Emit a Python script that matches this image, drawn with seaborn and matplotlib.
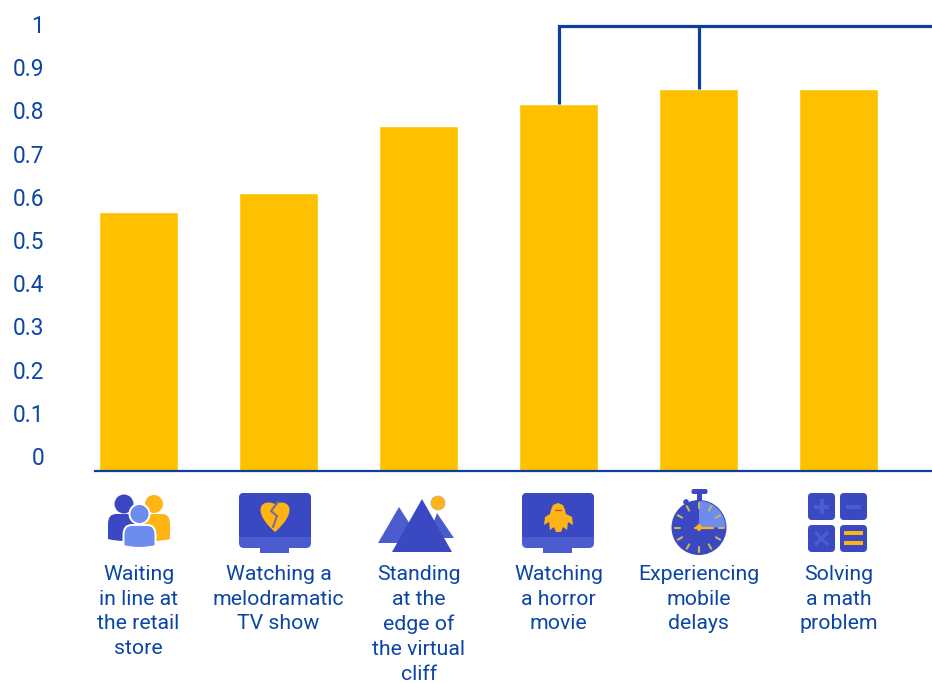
import numpy as np
import pandas as pd
import matplotlib
matplotlib.use("Agg")
import matplotlib.pyplot as plt
import seaborn as sns
from matplotlib.patches import Circle, FancyBboxPatch, Polygon, Rectangle, Wedge, PathPatch
from matplotlib.path import Path

categories = [
    "Waiting\nin line at\nthe retail\nstore",
    "Watching a\nmelodramatic\nTV show",
    "Standing\nat the\nedge of\nthe virtual\ncliff",
    "Watching\na horror\nmovie",
    "Experiencing\nmobile\ndelays",
    "Solving\na math\nproblem",
]
values = [0.582, 0.624, 0.775, 0.824, 0.858, 0.858]
scale_labels = ["0", "0.1", "0.2", "0.3", "0.4", "0.5", "0.6", "0.7", "0.8", "0.9", "1"]
scale_values = [i / 10 for i in range(11)]
bracket_level = 1.0
bracket_bars = [3, 4]

BAR = "#FFC000"
INK = "#0B45A6"
NAVY = "#0A3FA0"
BLUE = "#3A48C2"
MID = "#4B5CCF"
LIGHT = "#6E8CEE"
ORANGE = "#FDB414"

sns.set_theme(style="white")
plt.rcParams["font.family"] = ["Roboto", "DejaVu Sans"]

W, H = 932, 683
fig = plt.figure(figsize=(W / 100, H / 100), dpi=100, facecolor="white")

# Plot frame: zero baseline at y=471 px, full scale at y=26 px
x0, base_y = 95, 471
ax = fig.add_axes([x0 / W, 1 - base_y / H, (W - x0) / W, base_y / H])
data = pd.DataFrame({"scenario": categories, "share": values})
sns.barplot(data=data, x="scenario", y="share", color=BAR, saturation=1,
            width=79 / 140, ax=ax, order=categories)
ax.set_xlim((x0 - 138.6) / 140, (W - 138.6) / 140)
ax.set_ylim(0, base_y / 445)
ax.set_xlabel("")
ax.set_ylabel("")
ax.set_yticks([])
for side in ["top", "right", "left"]:
    ax.spines[side].set_visible(False)
ax.spines["bottom"].set_color(NAVY)
ax.spines["bottom"].set_linewidth(1.6)
ax.tick_params(axis="x", length=0, pad=67.5)
ax.set_xticks(range(len(categories)))
ax.set_xticklabels(categories, fontsize=15.3, color=INK, linespacing=1.39, va="top")

# Bracket joining the last two annotated bars
lw = 2.3
right_edge = ax.get_xlim()[1]
ax.plot([bracket_bars[0], bracket_bars[0], right_edge],
        [values[bracket_bars[0]], bracket_level, bracket_level],
        color=NAVY, lw=lw, solid_joinstyle="miter", solid_capstyle="butt", clip_on=False)
ax.plot([bracket_bars[1], bracket_bars[1]],
        [values[bracket_bars[1]], bracket_level],
        color=NAVY, lw=lw, solid_capstyle="butt")

# Scale labels sit on their own axis, slightly offset from the bars
scale_ax = ax.twinx()
unit = 432
scale_ax.set_ylim(-15 / unit, 456 / unit)
scale_ax.set_yticks(scale_values)
scale_ax.set_yticklabels(scale_labels, fontsize=16.3, color=INK, ha="right")
scale_ax.yaxis.tick_left()
scale_ax.tick_params(axis="y", length=0, pad=36.7)
for s in scale_ax.spines.values():
    s.set_visible(False)
scale_ax.patch.set_alpha(0)

# Overlay in pixel coordinates for the pictograms
ov = fig.add_axes([0, 0, 1, 1])
ov.set_xlim(0, W)
ov.set_ylim(H, 0)
ov.axis("off")
ov.patch.set_alpha(0)


def rounded(x, y, w, h, r, color, **kw):
    ov.add_patch(FancyBboxPatch((x + r, y + r), w - 2 * r, h - 2 * r,
                                boxstyle=f"round,pad={r},rounding_size={r}",
                                fc=color, ec="none", **kw))


def person(cx, head_y, head_r, half_w, top, bottom, color, outline=False):
    verts = [(cx - half_w, bottom), (cx - half_w, top + 10),
             (cx - half_w, top), (cx - half_w + 8, top), (cx + half_w - 8, top),
             (cx + half_w, top), (cx + half_w, top + 10), (cx + half_w, bottom),
             (cx, bottom + 4), (cx - half_w, bottom)]
    codes = [Path.MOVETO, Path.LINETO, Path.CURVE3, Path.CURVE3, Path.LINETO,
             Path.CURVE3, Path.CURVE3, Path.LINETO, Path.CURVE3, Path.CURVE3]
    ec, elw = ("white", 1.4) if outline else ("none", 0)
    ov.add_patch(PathPatch(Path(verts, codes), fc=color, ec=ec, lw=elw))
    ov.add_patch(Circle((cx, head_y), head_r, fc=color, ec=ec, lw=elw))


def monitor(x):
    ov.add_patch(Rectangle((x + 21, 546), 29, 7, fc=MID, ec="none"))
    rounded(x, 493, 72, 55, 5, MID)
    rounded(x, 493, 72, 30, 5, BLUE)
    ov.add_patch(Rectangle((x, 505), 72, 32, fc=BLUE, ec="none"))


def heart(cx, cy):
    verts = [(cx, cy + 17), (cx - 24, cy - 4), (cx - 14, cy - 17), (cx, cy - 11),
             (cx, cy - 11), (cx + 14, cy - 17), (cx + 24, cy - 4), (cx, cy + 17)]
    codes = [Path.MOVETO, Path.CURVE4, Path.CURVE4, Path.CURVE4,
             Path.LINETO, Path.CURVE4, Path.CURVE4, Path.CURVE4]
    ov.add_patch(PathPatch(Path(verts, codes), fc=ORANGE, ec="none"))
    ov.plot([cx + 3, cx - 4, cx + 2, cx - 2], [cy - 13, cy - 4, cy + 1, cy + 12],
            color="#7A6A8C", lw=1.5)


# Waiting in line
person(124, 504, 9.5, 16, 514, 539, BLUE)
person(154, 504, 9, 16, 514, 539, ORANGE)
person(139.5, 514, 10, 16, 525, 546, LIGHT, outline=True)

# Melodramatic TV show
monitor(239)
heart(275, 515)

# Virtual cliff
ov.add_patch(Polygon([(378, 543), (399, 507), (422, 543)], fc=MID, ec="none"))
ov.add_patch(Polygon([(428, 538), (437, 513), (454, 538)], fc=MID, ec="none"))
ov.add_patch(Polygon([(392, 552), (422, 499), (452, 552)], fc=BLUE, ec="none"))
ov.add_patch(Circle((438, 503), 7, fc=ORANGE, ec="#C9B58A", lw=0.6))

# Horror movie
monitor(522)
ghost = [(551, 510), (553, 505), (558, 503), (563, 505), (565, 510), (566, 514), (572, 517),
         (573, 525), (568, 522), (567, 530), (563, 527), (561, 532),
         (556, 532), (554, 527), (550, 530), (549, 522), (544, 525), (545, 517), (550, 514)]
ov.add_patch(Polygon(ghost, fc=ORANGE, ec="none"))
ov.plot([555, 561], [510, 510], color="#C04A30", lw=0.9)

# Mobile delays: a stopwatch
cx, cy, r = 699, 527.5, 27.5
ov.add_patch(Rectangle((697, 492), 5, 12, fc=BLUE, ec="none"))
rounded(691.5, 489, 16, 5, 2, BLUE)
ov.add_patch(Circle((686, 502), 2.8, fc=BLUE, ec="none"))
ov.add_patch(Circle((cx, cy), r, fc=BLUE, ec="none"))
# y runs downward in this overlay, so angles go clockwise on screen
ov.add_patch(Wedge((cx, cy), r - 1, -90, 0, fc=LIGHT, ec="none"))
angles = np.deg2rad(np.arange(0, 360, 30))
for a in angles:
    ov.plot([cx + (r - 8) * np.cos(a), cx + (r - 3) * np.cos(a)],
            [cy + (r - 8) * np.sin(a), cy + (r - 3) * np.sin(a)],
            color="#C9B84E", lw=1.5, solid_capstyle="round")
ov.plot([cx - 4, cx + 14], [cy, cy], color=ORANGE, lw=1.6)
ov.add_patch(Polygon([(cx - 4, cy), (cx, cy - 4), (cx + 4, cy), (cx, cy + 4)], fc=ORANGE, ec="none"))

# Math problem
for bx, by in [(808, 493), (840, 493), (808, 525), (840, 525)]:
    rounded(bx, by, 27, 27, 4, BLUE)
ov.add_patch(Rectangle((814, 505), 15, 3.5, fc=MID, ec="none"))
ov.add_patch(Rectangle((820, 499), 3.5, 15, fc=MID, ec="none"))
ov.add_patch(Rectangle((846, 505), 15, 3.5, fc=MID, ec="none"))
ov.plot([816, 827], [533, 544], color=MID, lw=2.4)
ov.plot([816, 827], [544, 533], color=MID, lw=2.4)
ov.add_patch(Rectangle((844, 531), 19, 4, fc=ORANGE, ec="none"))
ov.add_patch(Rectangle((844, 541), 19, 4, fc=ORANGE, ec="none"))

fig.savefig("out.png", dpi=100, facecolor="white")
